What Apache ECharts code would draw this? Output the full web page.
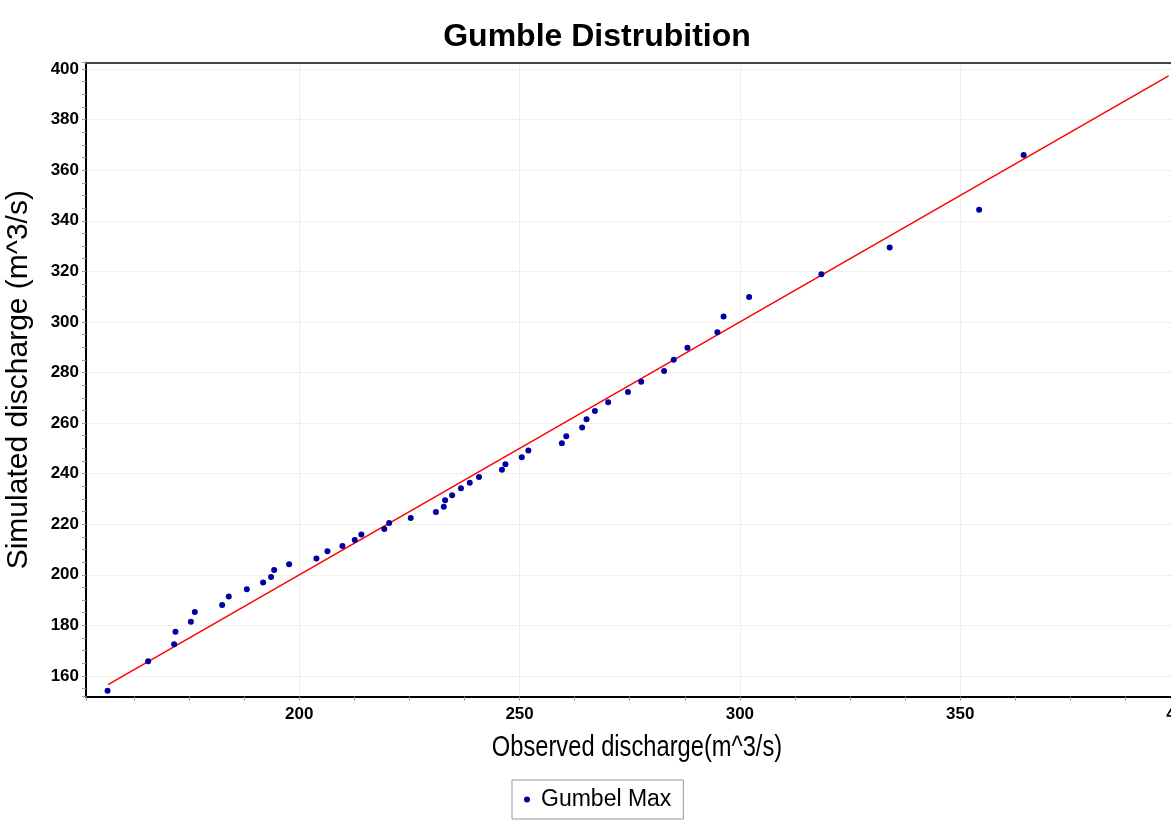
<!DOCTYPE html>
<html>
<head>
<meta charset="utf-8">
<script src="https://cdn.jsdelivr.net/npm/echarts@6/dist/echarts.min.js"></script>
<style>html,body{margin:0;padding:0;background:#fff;}#c{width:1171px;height:820px;}</style>
</head>
<body>
<div id="c"></div>
<script>
var observed = [156.5,165.7,171.6,171.9,175.4,176.3,182.5,184.0,188.1,191.8,193.6,194.3,197.7,203.9,206.4,209.8,212.6,214.1,219.3,220.4,225.3,231.0,232.8,233.1,234.7,236.7,238.7,240.8,246.0,246.8,250.5,252.0,259.6,260.6,264.2,265.2,267.1,270.1,274.6,277.6,282.8,285.0,288.1,294.9,296.3,302.1,318.5,334.0,354.3,364.4];
var simulated = [154.2,165.8,172.5,177.5,181.4,185.3,188.1,191.4,194.3,197.0,199.1,201.9,204.2,206.4,209.3,211.4,213.8,215.9,218.1,220.5,222.5,224.8,226.9,229.5,231.5,234.2,236.4,238.7,241.5,243.7,246.5,249.2,252.0,254.8,258.2,261.5,264.8,268.2,272.3,276.3,280.6,285.0,289.8,295.9,302.1,309.9,318.8,329.4,344.4,366.0];
var lineX = [156.6, 397.3];
var lineY = [156.6, 397.3];
var xRange = [151.6, 402.5];
var yRange = [151.8, 402.5];
var xTitle = 'Observed discharge(m^3/s)';
var yTitle = 'Simulated discharge (m^3/s)';

var pts = observed.map(function(v, i){ return [v, simulated[i]]; });
var linePts = lineX.map(function(v, i){ return [v, lineY[i]]; });

var chart = echarts.init(document.getElementById('c'), null, {renderer:'canvas'});
var sans = '"Liberation Sans", Arial, sans-serif';
chart.setOption({
  animation: false,
  backgroundColor: '#fff',
  title: {
    text: 'Gumble Distrubition',
    left: 592, top: 16, textAlign: 'center',
    textStyle: {fontFamily: sans, fontWeight: 'bold', fontSize: 32, color: '#000'}
  },
  legend: {
    data: ['Gumbel Max'],
    left: 512, top: 780,
    padding: [8, 12, 8, 12],
    borderColor: '#999', borderWidth: 1,
    itemWidth: 6, itemHeight: 6,
    icon: 'circle',
    itemStyle: {opacity: 1},
    textStyle: {fontFamily: sans, fontSize: 23, color: '#000', padding: [0, 0, 0, 6]}
  },
  graphic: [{
    type: 'text', x: 637, y: 748, scaleX: 0.79, silent: true,
    style: {text: xTitle, font: '30px "Liberation Sans", Arial, sans-serif', fill: '#000', align: 'center', verticalAlign: 'middle'}
  }],
  grid: {
    left: 86, top: 62.7, width: 1105.5, height: 634,
    outerBoundsMode: 'none', containLabel: false
  },
  xAxis: [{
    type: 'value', min: xRange[0], max: xRange[1], splitNumber: 5,
    axisLine: {show: true, lineStyle: {color: '#000', width: 2}},
    axisTick: {show: true, length: 4, lineStyle: {color: '#999'}},
    minorTick: {show: true, splitNumber: 4, length: 4, lineStyle: {color: '#999'}},
    axisLabel: {showMinLabel: false, showMaxLabel: false, margin: 9,
      fontFamily: sans, fontWeight: 'bold', fontSize: 17, color: '#000'},
    splitLine: {show: true, lineStyle: {color: '#e6e2cc', type: 'dotted', width: 1}}
  }, {
    type: 'value', position: 'top', min: xRange[0], max: xRange[1],
    axisLine: {show: true, onZero: false, lineStyle: {color: '#444', width: 2}},
    axisTick: {show: false}, axisLabel: {show: false}, splitLine: {show: false}
  }],
  yAxis: {
    type: 'value', min: yRange[0], max: yRange[1], splitNumber: 12,
    name: yTitle, nameLocation: 'middle', nameGap: 52,
    nameTextStyle: {fontFamily: sans, fontSize: 30, color: '#000'},
    axisLine: {show: true, lineStyle: {color: '#000', width: 2}},
    axisTick: {show: true, length: 4, lineStyle: {color: '#999'}},
    minorTick: {show: true, splitNumber: 4, length: 4, lineStyle: {color: '#999'}},
    axisLabel: {showMinLabel: false, showMaxLabel: false, margin: 7,
      fontFamily: sans, fontWeight: 'bold', fontSize: 17, color: '#000'},
    splitLine: {show: true, lineStyle: {color: '#e6e2cc', type: 'dotted', width: 1}}
  },
  series: [
    {
      name: 'fit', type: 'line', data: linePts, showSymbol: false, symbol: 'none',
      lineStyle: {color: '#ff0000', width: 1.5}, silent: true, z: 2
    },
    {
      name: 'Gumbel Max', type: 'scatter', data: pts, symbol: 'circle', symbolSize: 6,
      itemStyle: {color: '#0000a0', opacity: 1}, z: 3
    }
  ]
});
</script>
</body>
</html>
